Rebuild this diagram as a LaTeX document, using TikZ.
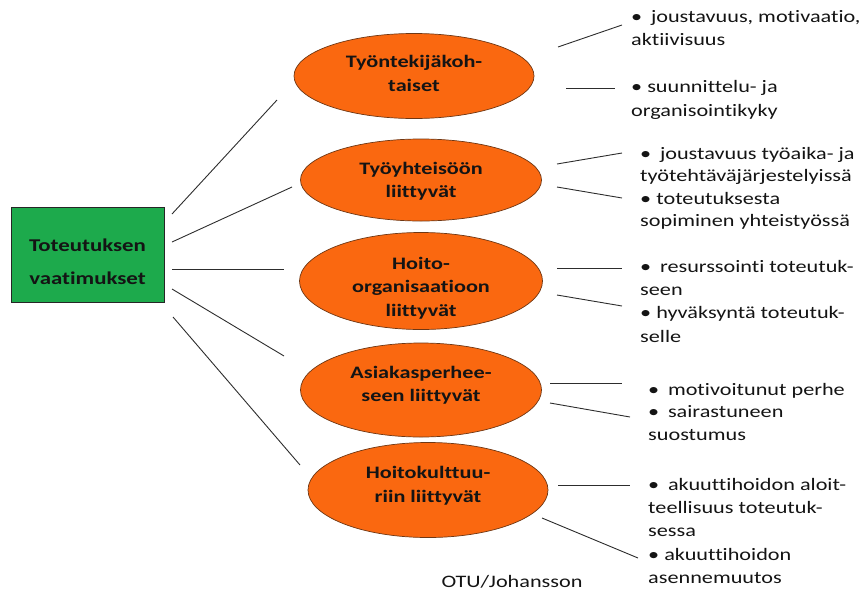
\documentclass[tikz,border=0pt]{standalone}
\usepackage{fontspec}
\setmainfont{Carlito}[FakeStretch=1.27, Ligatures=NoCommon]
\usetikzlibrary{shapes.geometric}

\definecolor{boxgreen}{RGB}{29,170,76}
\definecolor{topicorange}{RGB}{250,104,16}
\definecolor{topicedge}{RGB}{110,55,20}
\definecolor{linkgray}{RGB}{45,45,45}
\definecolor{inktext}{RGB}{20,20,20}

\begin{document}
\begin{tikzpicture}[x=1pt,y=-1pt,
  hub/.style={rectangle, draw=black!85, line width=0.9pt, fill=boxgreen,
    minimum width=153pt, minimum height=95pt, inner sep=0pt},
  hubtext/.style={align=center, inner sep=0pt, text=inktext,
    font=\fontsize{18}{23}\selectfont\bfseries},
  topic/.style={ellipse, draw=topicedge, line width=0.7pt, fill=topicorange,
    inner sep=0pt},
  topictext/.style={align=center, inner sep=0pt, text=inktext,
    font=\fontsize{17.5}{23.5}\selectfont\bfseries},
  notes/.style={anchor=north west, inner sep=0pt, align=left, text=inktext,
    font=\fontsize{17.5}{23}\selectfont},
  link/.style={draw=linkgray, line width=0.9pt}]

\useasboundingbox (0,0) rectangle (867,595);

% central box
\node[hub, label={[hubtext, yshift=-7pt]center:{Toteutuksen\\[10pt]vaatimukset}}]
  (hub) at (87.5,254.5) {};

% the five requirement groups
\node[topic, minimum width=240pt, minimum height=85pt,
  label={[topictext, yshift=2.5pt]center:{Työntekijäkoh-\\taiset}}]
  (t1) at (414,76) {};
\node[topic, minimum width=241pt, minimum height=82pt,
  label={[topictext, yshift=-1pt]center:{Työyhteisöön\\liittyvät}}]
  (t2) at (421,180) {};
\node[topic, minimum width=243pt, minimum height=97pt,
  label={[topictext, yshift=-7pt]center:{Hoito-\\organisaatioon\\liittyvät}}]
  (t3) at (421,281) {};
\node[topic, minimum width=241pt, minimum height=94pt,
  label={[topictext, yshift=5pt]center:{Asiakasperhee-\\seen liittyvät}}]
  (t4) at (421,390) {};
\node[topic, minimum width=240pt, minimum height=95pt,
  label={[topictext, yshift=4.5pt]center:{Hoitokulttuu-\\riin liittyvät}}]
  (t5) at (428,490) {};

% bullet lists
\node[notes, font=\fontsize{17.5}{23}\selectfont] (n1) at (631,10)
  {•\hspace{0.5em}joustavuus, motivaatio,\\aktiivisuus};
\node[notes, font=\fontsize{17.5}{24}\selectfont] (n2) at (631,80)
  {• suunnittelu- ja\\organisointikyky};
\node[notes, font=\fontsize{17.5}{22.5}\selectfont] (n3) at (640,147)
  {•\hspace{0.5em}joustavuus työaika- ja\\työtehtäväjärjestelyissä\\• toteutuksesta\\sopiminen yhteistyössä};
\node[notes, font=\fontsize{17.5}{23.3}\selectfont] (n4) at (640,260)
  {•\hspace{0.5em}resurssointi toteutuk-\\seen\\• hyväksyntä toteutuk-\\selle};
\node[notes, font=\fontsize{17.5}{22.5}\selectfont] (n5) at (648,383)
  {•\hspace{0.5em}motivoitunut perhe\\•\hspace{0.5em}sairastuneen\\suostumus};
\node[notes, font=\fontsize{17.5}{23.3}\selectfont] (n6) at (648,478)
  {•\hspace{0.5em}akuuttihoidon aloit-\\teellisuus toteutuk-\\sessa\\• akuuttihoidon\\asennemuutos};

\node[inner sep=0pt, text=inktext, font=\fontsize{17.5}{23}\selectfont] (src) at (512,582)
  {OTU/Johansson};

% end points of the connectors
\coordinate (h1) at (172,214); \coordinate (e1) at (277,100);
\coordinate (h2) at (172,242); \coordinate (e2) at (292,187);
\coordinate (h3) at (172,269); \coordinate (e3) at (284,269);
\coordinate (h4) at (172,289); \coordinate (e4) at (284,356);
\coordinate (h5) at (173,317); \coordinate (e5) at (300,465);

\coordinate (r1a) at (558,47);  \coordinate (r1b) at (622,25);
\coordinate (r2a) at (566,88);  \coordinate (r2b) at (615,88);
\coordinate (r3a) at (557,164); \coordinate (r3b) at (622,153);
\coordinate (r4a) at (557,187); \coordinate (r4b) at (622,198);
\coordinate (r5a) at (557,268); \coordinate (r5b) at (622,268);
\coordinate (r6a) at (557,295); \coordinate (r6b) at (622,306);
\coordinate (r7a) at (550,383); \coordinate (r7b) at (622,383);
\coordinate (r8a) at (550,403); \coordinate (r8b) at (630,417);
\coordinate (r9a) at (558,485); \coordinate (r9b) at (630,485);
\coordinate (r10a) at (542,518); \coordinate (r10b) at (638,558);

% connectors from the box to the groups
\foreach \i in {1,...,5} \draw[link] (h\i) -- (e\i);

% connectors from the groups to their lists
\foreach \i in {1,...,10} \draw[link] (r\i a) -- (r\i b);

\end{tikzpicture}
\end{document}
